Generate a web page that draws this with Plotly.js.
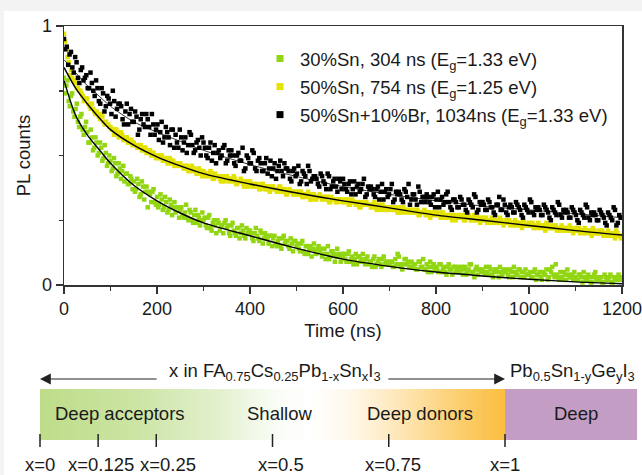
<!DOCTYPE html>
<html><head><meta charset="utf-8">
<script src="https://cdn.plot.ly/plotly-3.0.1.min.js"></script>
<style>
html,body{margin:0;padding:0;background:#f3f3f3;width:642px;height:475px;overflow:hidden}
#chart{position:absolute;left:4px;top:11px;width:638px;height:464px;background:#fff}
</style></head><body><div id="chart"></div>
<script>
// ---------- data ----------
const legendNames = [
  '30%Sn, 304 ns (E<sub>g</sub>=1.33 eV)',
  '50%Sn, 754 ns (E<sub>g</sub>=1.25 eV)',
  '50%Sn+10%Br, 1034ns (E<sub>g</sub>=1.33 eV)'
];
const seriesColors = ['#92d612', '#e4e200', '#000000'];
// sampling (ns): first sample time and spacing of each measured set
const greenStep = 5, yellowStep = 5, blackStep = 6;
const greenStartA = 0, greenStartB = 2.5, yellowStartA = 0, yellowStartB = 2.5, blackStartA = 0, blackStartB = 3;

const greenPL_A = [
0.80,0.77,0.71,0.73,0.67,0.68,0.63,0.65,0.60,0.61,
0.59,0.55,0.57,0.53,0.55,0.51,0.53,0.49,0.51,0.47,
0.48,0.45,0.47,0.43,0.45,0.44,0.40,0.43,0.39,0.41,
0.40,0.37,0.39,0.35,0.38,0.36,0.30,0.35,0.36,0.32,
0.34,0.31,0.33,0.30,0.32,0.29,0.31,0.30,0.28,0.30,
0.29,0.27,0.28,0.26,0.29,0.25,0.27,0.24,0.26,0.25,
0.25,0.23,0.26,0.22,0.24,0.23,0.25,0.21,0.23,0.24,
0.22,0.20,0.23,0.21,0.19,0.22,0.20,0.21,0.18,0.20,
0.21,0.18,0.20,0.19,0.17,0.20,0.18,0.19,0.16,0.19,
0.18,0.16,0.17,0.15,0.18,0.16,0.17,0.14,0.16,0.17,
0.15,0.14,0.16,0.13,0.15,0.12,0.15,0.14,0.13,0.14,
0.13,0.11,0.14,0.12,0.10,0.13,0.12,0.11,0.12,0.09,
0.11,0.10,0.12,0.09,0.11,0.10,0.08,0.11,0.10,0.09,
0.10,0.08,0.09,0.10,0.07,0.09,0.08,0.10,0.08,0.09,
0.08,0.09,0.07,0.08,0.11,0.07,0.08,0.10,0.09,0.07,
0.07,0.08,0.06,0.09,0.07,0.06,0.08,0.07,0.05,0.08,
0.07,0.05,0.08,0.06,0.05,0.07,0.06,0.04,0.07,0.06,
0.05,0.07,0.06,0.04,0.06,0.08,0.05,0.06,0.04,0.06,
0.06,0.04,0.05,0.07,0.04,0.05,0.06,0.03,0.05,0.06,
0.05,0.04,0.06,0.03,0.05,0.04,0.06,0.05,0.03,0.04,
0.04,0.03,0.05,0.02,0.04,0.03,0.05,0.04,0.02,0.06,
0.07,0.03,0.04,0.02,0.03,0.05,0.02,0.04,0.03,0.02,
0.03,0.02,0.04,0.01,0.03,0.02,0.03,0.01,0.04,0.02,
0.02,0.03,0.01,0.03,0.02,0.04,0.01,0.02,0.03,0.02,
0.02];
const greenPL_B = [
0.74,0.79,0.69,0.74,0.65,0.70,0.61,0.66,0.58,0.63,
0.55,0.60,0.52,0.57,0.50,0.55,0.48,0.54,0.46,0.50,
0.44,0.49,0.42,0.47,0.41,0.46,0.43,0.39,0.42,0.37,
0.36,0.41,0.34,0.40,0.33,0.38,0.36,0.32,0.37,0.31,
0.30,0.35,0.29,0.34,0.28,0.33,0.27,0.32,0.30,0.26,
0.30,0.26,0.31,0.25,0.28,0.24,0.29,0.27,0.23,0.28,
0.26,0.22,0.27,0.21,0.25,0.20,0.24,0.23,0.20,0.25,
0.23,0.19,0.24,0.20,0.22,0.18,0.23,0.19,0.22,0.21,
0.20,0.17,0.22,0.18,0.21,0.16,0.20,0.18,0.19,0.15,
0.19,0.15,0.18,0.14,0.19,0.17,0.15,0.18,0.13,0.17,
0.16,0.13,0.17,0.12,0.15,0.14,0.11,0.16,0.12,0.15,
0.14,0.12,0.10,0.15,0.11,0.13,0.09,0.14,0.11,0.12,
0.12,0.09,0.13,0.10,0.08,0.12,0.11,0.09,0.12,0.08,
0.11,0.09,0.07,0.11,0.08,0.10,0.07,0.11,0.09,0.08,
0.09,0.07,0.10,0.12,0.08,0.06,0.10,0.08,0.07,0.09,
0.08,0.06,0.09,0.07,0.10,0.06,0.05,0.09,0.07,0.06,
0.06,0.08,0.05,0.07,0.04,0.08,0.06,0.07,0.05,0.07,
0.06,0.04,0.07,0.05,0.08,0.05,0.03,0.07,0.06,0.05,
0.05,0.07,0.04,0.06,0.03,0.06,0.05,0.07,0.04,0.05,
0.06,0.03,0.05,0.07,0.04,0.06,0.03,0.05,0.06,0.04,
0.05,0.03,0.06,0.04,0.05,0.02,0.04,0.06,0.03,0.05,
0.04,0.08,0.03,0.05,0.02,0.04,0.06,0.03,0.04,0.05,
0.02,0.04,0.03,0.05,0.02,0.04,0.01,0.03,0.05,0.03,
0.03,0.01,0.04,0.02,0.03,0.01,0.03,0.02,0.04,0.03];

const yellowPL_A = [
0.97,0.91,0.86,0.83,0.79,0.78,0.76,0.75,0.73,0.72,
0.72,0.69,0.70,0.67,0.67,0.65,0.66,0.63,0.63,0.62,
0.61,0.60,0.60,0.59,0.58,0.58,0.56,0.57,0.55,0.56,
0.55,0.54,0.53,0.54,0.52,0.53,0.51,0.52,0.51,0.50,
0.50,0.49,0.50,0.48,0.49,0.47,0.48,0.48,0.46,0.47,
0.47,0.46,0.45,0.46,0.44,0.46,0.45,0.43,0.45,0.44,
0.44,0.42,0.43,0.44,0.41,0.43,0.42,0.41,0.42,0.40,
0.42,0.40,0.41,0.42,0.39,0.40,0.41,0.39,0.40,0.38,
0.40,0.38,0.39,0.39,0.37,0.39,0.38,0.37,0.38,0.37,
0.38,0.37,0.36,0.38,0.36,0.37,0.35,0.37,0.36,0.35,
0.36,0.35,0.36,0.34,0.35,0.36,0.33,0.35,0.34,0.34,
0.35,0.33,0.34,0.34,0.32,0.34,0.33,0.32,0.33,0.33,
0.33,0.32,0.33,0.31,0.33,0.32,0.31,0.30,0.32,0.31,
0.32,0.31,0.30,0.31,0.30,0.31,0.29,0.31,0.30,0.29,
0.30,0.30,0.29,0.30,0.28,0.29,0.30,0.28,0.29,0.28,
0.29,0.28,0.29,0.27,0.28,0.29,0.27,0.28,0.27,0.28,
0.28,0.27,0.26,0.28,0.27,0.26,0.27,0.25,0.27,0.26,
0.27,0.26,0.25,0.26,0.27,0.25,0.26,0.25,0.26,0.24,
0.26,0.25,0.24,0.25,0.26,0.24,0.25,0.24,0.25,0.23,
0.25,0.24,0.23,0.24,0.25,0.23,0.24,0.22,0.24,0.23,
0.24,0.23,0.22,0.23,0.24,0.22,0.23,0.21,0.23,0.22,
0.23,0.22,0.21,0.22,0.23,0.21,0.22,0.21,0.22,0.20,
0.22,0.21,0.20,0.21,0.22,0.20,0.21,0.19,0.21,0.20,
0.21,0.20,0.19,0.20,0.21,0.19,0.20,0.18,0.20,0.19,
0.19];
const yellowPL_B = [
0.94,0.88,0.81,0.80,0.79,0.76,0.75,0.74,0.71,0.72,
0.70,0.68,0.68,0.66,0.66,0.64,0.65,0.62,0.62,0.61,
0.60,0.58,0.60,0.57,0.59,0.56,0.57,0.55,0.56,0.54,
0.54,0.53,0.54,0.52,0.53,0.51,0.52,0.50,0.51,0.49,
0.49,0.50,0.48,0.49,0.47,0.49,0.47,0.46,0.47,0.46,
0.46,0.45,0.46,0.44,0.45,0.44,0.44,0.43,0.44,0.42,
0.43,0.43,0.42,0.43,0.41,0.42,0.42,0.40,0.42,0.41,
0.41,0.41,0.40,0.41,0.39,0.40,0.40,0.38,0.40,0.39,
0.39,0.39,0.38,0.38,0.37,0.39,0.37,0.38,0.36,0.38,
0.37,0.36,0.38,0.36,0.37,0.35,0.36,0.36,0.35,0.36,
0.35,0.36,0.34,0.35,0.34,0.35,0.33,0.35,0.33,0.34,
0.34,0.34,0.33,0.34,0.32,0.33,0.33,0.32,0.33,0.32,
0.32,0.33,0.31,0.32,0.32,0.31,0.32,0.30,0.31,0.31,
0.31,0.31,0.30,0.32,0.29,0.30,0.31,0.29,0.30,0.30,
0.29,0.30,0.29,0.28,0.30,0.28,0.29,0.29,0.28,0.29,
0.28,0.29,0.27,0.28,0.28,0.27,0.28,0.26,0.28,0.27,
0.27,0.28,0.27,0.26,0.27,0.27,0.26,0.27,0.25,0.26,
0.26,0.27,0.25,0.26,0.26,0.25,0.27,0.25,0.26,0.25,
0.25,0.26,0.25,0.24,0.25,0.25,0.24,0.26,0.24,0.24,
0.24,0.25,0.24,0.23,0.24,0.24,0.23,0.25,0.23,0.23,
0.23,0.24,0.23,0.22,0.23,0.23,0.22,0.24,0.22,0.22,
0.22,0.23,0.22,0.21,0.22,0.22,0.21,0.23,0.21,0.21,
0.21,0.22,0.21,0.20,0.21,0.21,0.20,0.22,0.20,0.20,
0.20,0.21,0.20,0.19,0.20,0.20,0.19,0.21,0.19,0.18];

const blackPL_A = [
0.95,0.92,0.89,0.84,0.88,0.80,0.83,0.79,0.81,0.76,
0.78,0.73,0.76,0.70,0.74,0.69,0.72,0.66,0.71,0.68,
0.70,0.64,0.67,0.62,0.68,0.63,0.65,0.60,0.66,0.61,
0.64,0.58,0.62,0.60,0.56,0.63,0.57,0.59,0.54,0.60,
0.58,0.53,0.57,0.55,0.51,0.59,0.54,0.52,0.56,0.50,
0.55,0.50,0.53,0.48,0.54,0.51,0.49,0.53,0.47,0.52,
0.52,0.47,0.50,0.48,0.53,0.45,0.49,0.47,0.51,0.44,
0.49,0.44,0.47,0.43,0.48,0.45,0.41,0.46,0.44,0.47,
0.45,0.41,0.44,0.42,0.46,0.40,0.43,0.39,0.44,0.41,
0.42,0.39,0.43,0.40,0.37,0.42,0.38,0.41,0.36,0.40,
0.41,0.37,0.39,0.35,0.40,0.38,0.36,0.39,0.34,0.38,
0.38,0.35,0.37,0.33,0.39,0.36,0.34,0.37,0.32,0.36,
0.36,0.33,0.37,0.34,0.31,0.35,0.33,0.38,0.32,0.34,
0.35,0.32,0.34,0.30,0.36,0.33,0.31,0.35,0.32,0.29,
0.33,0.30,0.34,0.31,0.29,0.33,0.31,0.35,0.28,0.32,
0.32,0.29,0.33,0.30,0.28,0.31,0.34,0.29,0.31,0.27,
0.31,0.28,0.32,0.30,0.27,0.31,0.29,0.33,0.28,0.30,
0.30,0.27,0.31,0.29,0.26,0.30,0.28,0.32,0.27,0.29,
0.29,0.26,0.30,0.28,0.25,0.29,0.27,0.31,0.26,0.28,
0.28,0.25,0.29,0.27,0.24,0.28,0.26,0.30,0.23,0.27,
0.26];
const blackPL_B = [
0.91,0.85,0.90,0.82,0.86,0.78,0.84,0.80,0.76,0.82,
0.75,0.79,0.71,0.76,0.67,0.73,0.70,0.75,0.65,0.70,
0.69,0.62,0.70,0.66,0.63,0.67,0.58,0.64,0.62,0.66,
0.61,0.66,0.58,0.62,0.59,0.55,0.61,0.57,0.60,0.53,
0.55,0.60,0.52,0.57,0.54,0.58,0.51,0.55,0.53,0.57,
0.53,0.49,0.55,0.51,0.47,0.52,0.50,0.54,0.48,0.50,
0.50,0.46,0.51,0.48,0.44,0.50,0.47,0.52,0.45,0.48,
0.47,0.44,0.49,0.45,0.42,0.47,0.44,0.48,0.42,0.45,
0.44,0.40,0.45,0.43,0.39,0.44,0.42,0.46,0.40,0.42,
0.41,0.38,0.42,0.39,0.43,0.37,0.40,0.38,0.41,0.37,
0.39,0.36,0.40,0.37,0.35,0.39,0.37,0.41,0.35,0.37,
0.37,0.34,0.38,0.36,0.33,0.37,0.35,0.39,0.33,0.35,
0.35,0.32,0.36,0.39,0.33,0.35,0.31,0.36,0.34,0.32,
0.34,0.31,0.35,0.33,0.30,0.34,0.32,0.36,0.30,0.33,
0.32,0.30,0.33,0.31,0.28,0.32,0.30,0.34,0.29,0.31,
0.31,0.29,0.32,0.30,0.27,0.31,0.29,0.33,0.28,0.30,
0.30,0.28,0.31,0.29,0.26,0.30,0.28,0.32,0.27,0.29,
0.29,0.27,0.30,0.28,0.25,0.29,0.27,0.31,0.26,0.28,
0.28,0.26,0.29,0.27,0.24,0.28,0.26,0.30,0.25,0.27,
0.27,0.25,0.28,0.26,0.23,0.27,0.25,0.29,0.24,0.26];

// fitted decay curves
const fitTime   = [0,25,50,77,100,150,200,250,300,400,486,600,700,800,900,1000,1100,1200];
const greenFit  = [0.79,0.655,0.58,0.52,0.47,0.385,0.325,0.278,0.24,0.19,0.148,0.10,0.072,0.05,0.035,0.022,0.012,0.005];
const yellowFit = [0.84,0.76,0.70,0.643,0.60,0.54,0.495,0.46,0.43,0.39,0.36,0.325,0.298,0.27,0.25,0.23,0.21,0.193];
const blackFit  = [0.87,0.82,0.77,0.727,0.69,0.63,0.59,0.555,0.52,0.465,0.425,0.38,0.35,0.325,0.305,0.29,0.275,0.26];

// composition diagram
const compTicks  = [0, 0.125, 0.25, 0.5, 0.75, 1];
const compLabels = ['x=0','x=0.125','x=0.25','x=0.5','x=0.75','x=1'];
const regionNames = ['Deep acceptors','Shallow','Deep donors','Deep'];
const regionCenters = [0.172, 0.514, 0.817, 1.153];
const formulaLeft  = 'x in FA<sub>0.75</sub>Cs<sub>0.25</sub>Pb<sub>1-x</sub>Sn<sub>x</sub>I<sub>3</sub>';
const formulaRight = 'Pb<sub>0.5</sub>Sn<sub>1-y</sub>Ge<sub>y</sub>I<sub>3</sub>';

// ---------- build ----------
const W = 638, H = 464;
const FONT = 'Arial, "Liberation Sans", sans-serif';
const TXT = 18.5;
const times = (n, start, step) => Array.from({length:n}, (_, i) => start + i*step);

const traces = [];
const mk = (x, y, c) => ({type:'scatter', mode:'markers', x, y, xaxis:'x', yaxis:'y',
  marker:{symbol:'square', size:4.5, color:c, line:{width:0}}, showlegend:false, hoverinfo:'skip'});
traces.push(mk(times(greenPL_A.length, greenStartA, greenStep), greenPL_A, seriesColors[0]));
traces.push(mk(times(greenPL_B.length, greenStartB, greenStep), greenPL_B, seriesColors[0]));
traces.push(mk(times(yellowPL_A.length, yellowStartA, yellowStep), yellowPL_A, seriesColors[1]));
traces.push(mk(times(yellowPL_B.length, yellowStartB, yellowStep), yellowPL_B, seriesColors[1]));
traces.push(mk(times(blackPL_A.length, blackStartA, blackStep), blackPL_A, seriesColors[2]));
traces.push(mk(times(blackPL_B.length, blackStartB, blackStep), blackPL_B, seriesColors[2]));
const fl = (y, w) => ({type:'scatter', mode:'lines', x:fitTime, y, xaxis:'x', yaxis:'y',
  line:{color:'#000', width:w, shape:'spline', smoothing:0.8}, showlegend:false, hoverinfo:'skip'});
traces.push(fl(greenFit, 1.4), fl(yellowFit, 1.4), fl(blackFit, 0.8));
// legend entries
legendNames.forEach((n, i) => traces.push({type:'scatter', mode:'markers', x:[null], y:[null],
  name:n, legendgroup:'g'+i, marker:{symbol:'square', size:7, color:seriesColors[i]}, xaxis:'x', yaxis:'y'}));

// gradient bar (heatmap)
const NG = 160, gx = [], gz = [];
for (let i = 0; i <= NG; i++) gx.push(i/NG);
for (let i = 0; i < NG; i++) gz.push((i+0.5)/NG);
traces.push({type:'heatmap', x:gx, y:[35,86], z:[gz], xaxis:'x2', yaxis:'y2', zmin:0, zmax:1,
  showscale:false, hoverinfo:'skip',
  colorscale:[[0,'rgb(190,221,137)'],[0.2,'rgb(203,228,162)'],[0.38,'rgb(226,240,205)'],[0.5,'rgb(248,252,244)'],
              [0.58,'rgb(255,255,255)'],[0.66,'rgb(255,249,236)'],[0.76,'rgb(254,233,190)'],[0.9,'rgb(252,207,112)'],[1,'rgb(251,189,62)']]});

const shapes = [{type:'rect', xref:'x2', yref:'y2', x0:1, x1:1.284, y0:35, y1:86, fillcolor:'#c49dc5', line:{width:0}, layer:'below'}];
compTicks.forEach(t => shapes.push({type:'line', xref:'x2', yref:'y2', x0:t, x1:t, y0:28, y1:41, line:{color:'#222', width:1.5}}));

const labelShift = [0, 3, 12, 8, 4, 0];
const annotations = [];
compLabels.forEach((l, i) => annotations.push({xref:'x2', yref:'y2', x:compTicks[i], y:11, text:l, showarrow:false,
  xshift:labelShift[i], borderpad:0, font:{size:TXT, color:'#1a1a1a'}}));
regionNames.forEach((r, i) => annotations.push({xref:'x2', yref:'y2', x:regionCenters[i], y:62, text:r, showarrow:false,
  font:{size:TXT, color:'#1a1a1a'}}));
annotations.push({xref:'x2', yref:'y2', x:0.505, y:103, text:formulaLeft, showarrow:false, font:{size:TXT, color:'#1a1a1a'}});
annotations.push({xref:'x2', yref:'y2', x:1.146, y:103, text:formulaRight, showarrow:false, font:{size:TXT, color:'#1a1a1a'}});
const arrowStyle = {xref:'x2', yref:'y2', axref:'x2', ayref:'y2', text:'', showarrow:true, arrowhead:2, arrowsize:1.8, arrowwidth:1.2, arrowcolor:'#222'};
annotations.push(Object.assign({x:0, y:96, ax:0.254, ay:96}, arrowStyle));
annotations.push(Object.assign({x:1.0, y:96, ax:0.746, ay:96}, arrowStyle));

const axLine = {showline:true, linecolor:'#333', linewidth:1.5, mirror:true, showgrid:false, zeroline:false,
  ticks:'outside', tickcolor:'#333', tickwidth:1.5, fixedrange:true, ticklabeloverflow:'allow'};
const layout = {
  width:W, height:H, margin:{l:0, r:0, t:0, b:0},
  paper_bgcolor:'#ffffff', plot_bgcolor:'rgba(0,0,0,0)',
  font:{family:FONT, size:TXT, color:'#1a1a1a'},
  xaxis:Object.assign({domain:[60/W, 618/W], range:[0,1200], anchor:'y', tick0:0, dtick:200, ticklen:7,
    minor:{dtick:100, ticks:'outside', ticklen:4, tickwidth:1.5, tickcolor:'#333', showgrid:false},
    tickfont:{size:18}, title:{text:'Time (ns)', font:{size:TXT}, standoff:6}}, axLine),
  yaxis:Object.assign({domain:[(H-274)/H, (H-15)/H], range:[0,1], anchor:'x', tick0:0, dtick:1, ticklen:7,
    minor:{dtick:0.25, ticks:'outside', ticklen:4, tickwidth:1.5, tickcolor:'#333', showgrid:false},
    tickfont:{size:18}, title:{text:'PL counts', font:{size:TXT}, standoff:6}}, axLine),
  xaxis2:{domain:[0,1], range:[-36/465, (W-36)/465], anchor:'y2', visible:false, fixedrange:true},
  yaxis2:{domain:[0, 120/H], range:[0,120], anchor:'x2', visible:false, fixedrange:true},
  showlegend:true,
  legend:{x:256/W, y:1-29/H, xanchor:'left', yanchor:'top', bgcolor:'rgba(0,0,0,0)', borderwidth:0,
    font:{size:TXT, color:'#1a1a1a'}, traceorder:'grouped', tracegroupgap:1},
  shapes, annotations
};
Plotly.newPlot('chart', traces, layout, {staticPlot:true, displayModeBar:false});
</script></body></html>
